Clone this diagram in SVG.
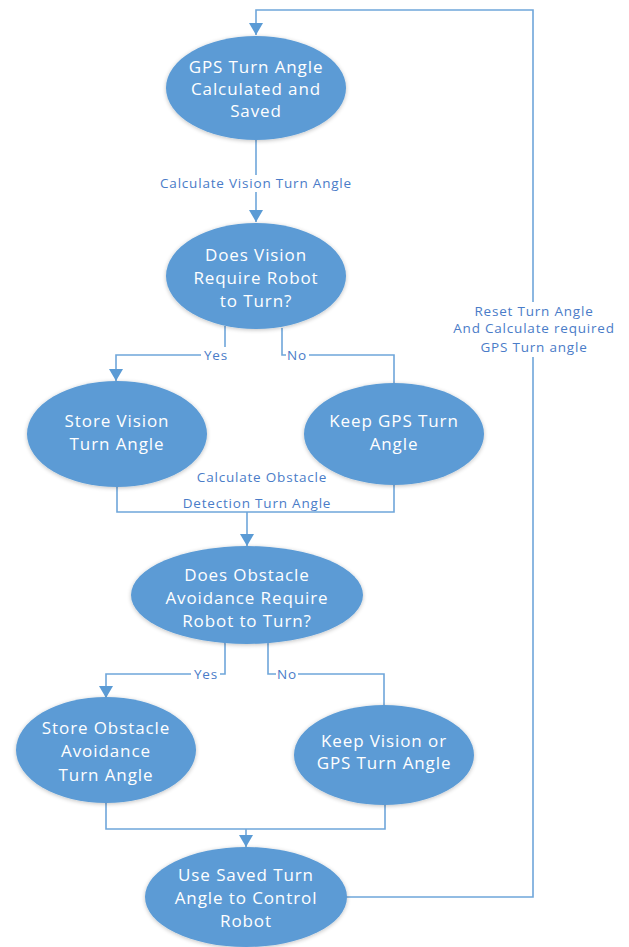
<svg xmlns="http://www.w3.org/2000/svg" width="629" height="947" viewBox="0 0 629 947">
<defs>
<filter id="sh" x="-10%" y="-10%" width="120%" height="130%">
<feGaussianBlur in="SourceAlpha" stdDeviation="2"/>
<feOffset dy="1"/>
<feComponentTransfer><feFuncA type="linear" slope="0.25"/></feComponentTransfer>
<feMerge><feMergeNode/><feMergeNode in="SourceGraphic"/></feMerge>
</filter>
<marker id="arrow" viewBox="0 0 12 14" refX="12" refY="7" markerWidth="12" markerHeight="14" markerUnits="userSpaceOnUse" orient="auto">
<path d="M0,0 L12,7 L0,14 Z" fill="#5B9BD5"/>
</marker>
<style>
.n{fill:#5B9BD5;filter:url(#sh)}
.t{fill:#fff;font-family:"Open Sans","Liberation Sans",sans-serif;font-size:17px;letter-spacing:0.9px;text-anchor:middle}
.c{fill:none;stroke:#6FA6DA;stroke-width:1.6}
.l{fill:#4A7CC8;font-family:"Open Sans","Liberation Sans",sans-serif;font-size:13.5px;letter-spacing:0.8px;text-anchor:middle}
.bg{fill:#fff}
</style>
</defs>
<rect width="629" height="947" fill="#fff"/>
<g id="connectors">
<path class="c" d="M256,140 V222" marker-end="url(#arrow)"/>
<path class="c" d="M225,326 V355 H116 V381" marker-end="url(#arrow)"/>
<path class="c" d="M282,328 V355 H394 V383"/>
<path class="c" d="M117,487 V512 H394 V485"/>
<path class="c" d="M247,512 V546" marker-end="url(#arrow)"/>
<path class="c" d="M225,642 V674 H106 V698" marker-end="url(#arrow)"/>
<path class="c" d="M268,643 V674 H384 V706"/>
<path class="c" d="M106,802 V829 H385 V804"/>
<path class="c" d="M246,829 V847" marker-end="url(#arrow)"/>
<path class="c" d="M346,897 H533 V10 H256 V35" marker-end="url(#arrow)"/>
<rect class="bg" x="155" y="175" width="202" height="17"/>
<rect class="bg" x="201" y="347" width="30" height="16"/>
<rect class="bg" x="286" y="347" width="23" height="16"/>
<rect class="bg" x="191" y="666" width="29" height="16"/>
<rect class="bg" x="276" y="666" width="22" height="16"/>
<rect class="bg" x="450" y="302" width="166" height="55"/>
<text class="l" x="256" y="188">Calculate Vision Turn Angle</text>
<text class="l" x="216" y="360">Yes</text>
<text class="l" x="297" y="360">No</text>
<text class="l" x="262" y="482">Calculate Obstacle</text>
<text class="l" x="257" y="508">Detection Turn Angle</text>
<text class="l" x="206" y="679">Yes</text>
<text class="l" x="287" y="679">No</text>
<text class="l" x="534" y="316">Reset Turn Angle</text>
<text class="l" x="534" y="333">And Calculate required</text>
<text class="l" x="534" y="352">GPS Turn angle</text>
</g>
<g id="n1">
<ellipse class="n" cx="256" cy="88" rx="90" ry="52"/>
<text class="t" x="256" y="73">GPS Turn Angle</text>
<text class="t" x="256" y="95">Calculated and</text>
<text class="t" x="256" y="117">Saved</text>
</g>
<g id="n2">
<ellipse class="n" cx="256" cy="276" rx="90" ry="53"/>
<text class="t" x="256" y="261">Does Vision</text>
<text class="t" x="256" y="284">Require Robot</text>
<text class="t" x="256" y="307">to Turn?</text>
</g>
<g id="n3">
<ellipse class="n" cx="117" cy="434" rx="90" ry="53"/>
<text class="t" x="117" y="427">Store Vision</text>
<text class="t" x="117" y="450">Turn Angle</text>
</g>
<g id="n4">
<ellipse class="n" cx="394" cy="434" rx="90" ry="51"/>
<text class="t" x="394" y="427">Keep GPS Turn</text>
<text class="t" x="394" y="450">Angle</text>
</g>
<g id="n5">
<ellipse class="n" cx="247" cy="595" rx="116" ry="49"/>
<text class="t" x="247" y="581">Does Obstacle</text>
<text class="t" x="247" y="604">Avoidance Require</text>
<text class="t" x="247" y="627">Robot to Turn?</text>
</g>
<g id="n6">
<ellipse class="n" cx="106" cy="750" rx="90" ry="53"/>
<text class="t" x="106" y="734">Store Obstacle</text>
<text class="t" x="106" y="757">Avoidance</text>
<text class="t" x="106" y="781">Turn Angle</text>
</g>
<g id="n7">
<ellipse class="n" cx="384" cy="755" rx="90" ry="50"/>
<text class="t" x="384" y="747">Keep Vision or</text>
<text class="t" x="384" y="769">GPS Turn Angle</text>
</g>
<g id="n8">
<ellipse class="n" cx="246" cy="897" rx="101" ry="50"/>
<text class="t" x="246" y="881">Use Saved Turn</text>
<text class="t" x="246" y="904">Angle to Control</text>
<text class="t" x="246" y="927">Robot</text>
</g>
</svg>
